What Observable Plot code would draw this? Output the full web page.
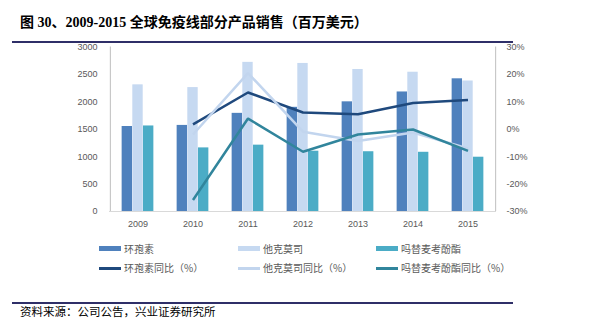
<!DOCTYPE html>
<html>
<head>
<meta charset="utf-8">
<script src="https://cdn.jsdelivr.net/npm/d3@7"></script>
<script src="https://cdn.jsdelivr.net/npm/@observablehq/plot@0.6"></script>
<style>
  html, body { margin: 0; padding: 0; background: #fff; }
  #wrap { position: relative; width: 606px; height: 328px; overflow: hidden; background: #fff; }
  #chart { position: absolute; left: 0; top: 0; }
  .title { position: absolute; left: 20px; top: 15px; font: bold 14px/16px "Liberation Serif", "Noto Sans CJK SC", serif; color: #000; white-space: nowrap; }
  .rule { position: absolute; left: 12px; width: 501px; height: 2px; background: #2f2f68; }
  .footer { position: absolute; left: 20px; top: 305px; font: 11.5px/15px "Liberation Serif", "Noto Sans CJK SC", serif; color: #000; white-space: nowrap; }
  .leg { position: absolute; font: 10px/12px "Noto Sans CJK SC", sans-serif; color: #595959; white-space: nowrap; }
  .sw { position: absolute; }
</style>
</head>
<body>
<div id="wrap">
  <div id="chart"></div>
  <div class="title">图 30、2009-2015 全球免疫线部分产品销售（百万美元）</div>
  <div class="rule" style="top:41px"></div>
  <div id="legend"></div>
  <div class="rule" style="top:302px"></div>
  <div class="footer">资料来源：公司公告，兴业证券研究所</div>
</div>
<script>
const years = ["2009", "2010", "2011", "2012", "2013", "2014", "2015"];
const seriesNames = ["环孢素", "他克莫司", "吗替麦考酚酯"];
const lineNames = ["环孢素同比（%）", "他克莫司同比（%）", "吗替麦考酚酯同比（%）"];
const cyclosporine = [1550, 1570, 1790, 1900, 2000, 2180, 2420];
const tacrolimus = [2310, 2260, 2720, 2700, 2590, 2540, 2380];
const mycophenolate = [1560, 1160, 1210, 1100, 1090, 1080, 990];
const cycloYoY = [null, 1.8, 13.4, 6.1, 5.5, 9.6, 10.7];
const tacroYoY = [null, -1.9, 20.5, -0.9, -4.3, -1.2, -7.0];
const mycoYoY = [null, -25.8, 3.9, -8.2, -1.9, -0.1, -7.9];
const leftTicks = [0, 500, 1000, 1500, 2000, 2500, 3000];
const rightTicks = [-30, -20, -10, 0, 10, 20, 30];

const barColors = ["#4f81bd", "#c6d9f1", "#4bacc6"];
const lineColors = ["#1f497d", "#c2d5ee", "#31859c"];

const W = 606, H = 240, ML = 109, MR = 110, MT = 46.5, MB = 29;
const bw = (W - ML - MR) / years.length;
const barW = 10.67, groupW = barW * 3;

// map percent (right axis, -30..30) to left-axis units (0..3000)
const pctToLeft = p => (p + 30) / 60 * 3000;

const barSeries = [cyclosporine, tacrolimus, mycophenolate];
const yoySeries = [cycloYoY, tacroYoY, mycoYoY];

const barMarks = barSeries.map((vals, i) => {
  const L = (bw - groupW) / 2 + i * barW;
  const R = bw - L - barW;
  return Plot.barY(years.map((y, j) => ({year: y, v: vals[j]})), {
    x: "year", y: "v", fill: barColors[i], insetLeft: L, insetRight: R
  });
});

const lineMarks = yoySeries.map((vals, i) =>
  Plot.line(years.map((y, j) => ({year: y, v: vals[j]})).filter(d => d.v != null), {
    x: "year", y: d => pctToLeft(d.v), stroke: lineColors[i], strokeWidth: 2.5, strokeLinejoin: "miter", strokeLinecap: "butt"
  })
);

const plot = Plot.plot({
  width: W, height: H,
  marginLeft: ML, marginRight: MR, marginTop: MT, marginBottom: MB,
  style: {fontFamily: "'Liberation Sans', Arial, sans-serif", fontSize: "9px", color: "#595959", background: "transparent"},
  x: {domain: years, padding: 0, axis: null, label: null},
  y: {domain: [0, 3000], axis: null, label: null},
  marks: [
    ...barMarks,
    Plot.ruleY([0], {stroke: "#d9d9d9", strokeWidth: 1}),
    Plot.ruleX([years[0]], {y1: 0, y2: 3000, dx: -bw / 2, stroke: "#bfbfbf"}),
    Plot.ruleX([years[years.length - 1]], {y1: 0, y2: 3000, dx: bw / 2, stroke: "#bfbfbf"}),
    ...lineMarks,
    Plot.axisX({tickSize: 0, tickPadding: 9, fontSize: 9, label: null}),
    Plot.axisY({anchor: "left", ticks: leftTicks, tickSize: 0, tickPadding: 12, fontSize: 9, label: null,
      tickFormat: v => String(v)}),
    Plot.axisY({anchor: "right", ticks: rightTicks.map(pctToLeft), tickSize: 0, tickPadding: 10, fontSize: 9, label: null,
      tickFormat: v => Math.round(v / 3000 * 60 - 30) + "%"})
  ]
});
document.getElementById("chart").appendChild(plot);

// legend
const legend = document.getElementById("legend");
const cols = [99, 238, 376];
seriesNames.forEach((name, i) => {
  const sw = document.createElement("div");
  sw.className = "sw";
  sw.style.cssText = `left:${cols[i]}px;top:246px;width:22px;height:5px;background:${barColors[i]}`;
  legend.appendChild(sw);
  const t = document.createElement("div");
  t.className = "leg";
  t.style.cssText = `left:${cols[i] + 25}px;top:242.5px`;
  t.textContent = name;
  legend.appendChild(t);
});
lineNames.forEach((name, i) => {
  const sw = document.createElement("div");
  sw.className = "sw";
  sw.style.cssText = `left:${cols[i]}px;top:267px;width:22px;height:2.5px;background:${lineColors[i]}`;
  legend.appendChild(sw);
  const t = document.createElement("div");
  t.className = "leg";
  t.style.cssText = `left:${cols[i] + 25}px;top:262px`;
  t.textContent = name;
  legend.appendChild(t);
});
</script>
</body>
</html>
